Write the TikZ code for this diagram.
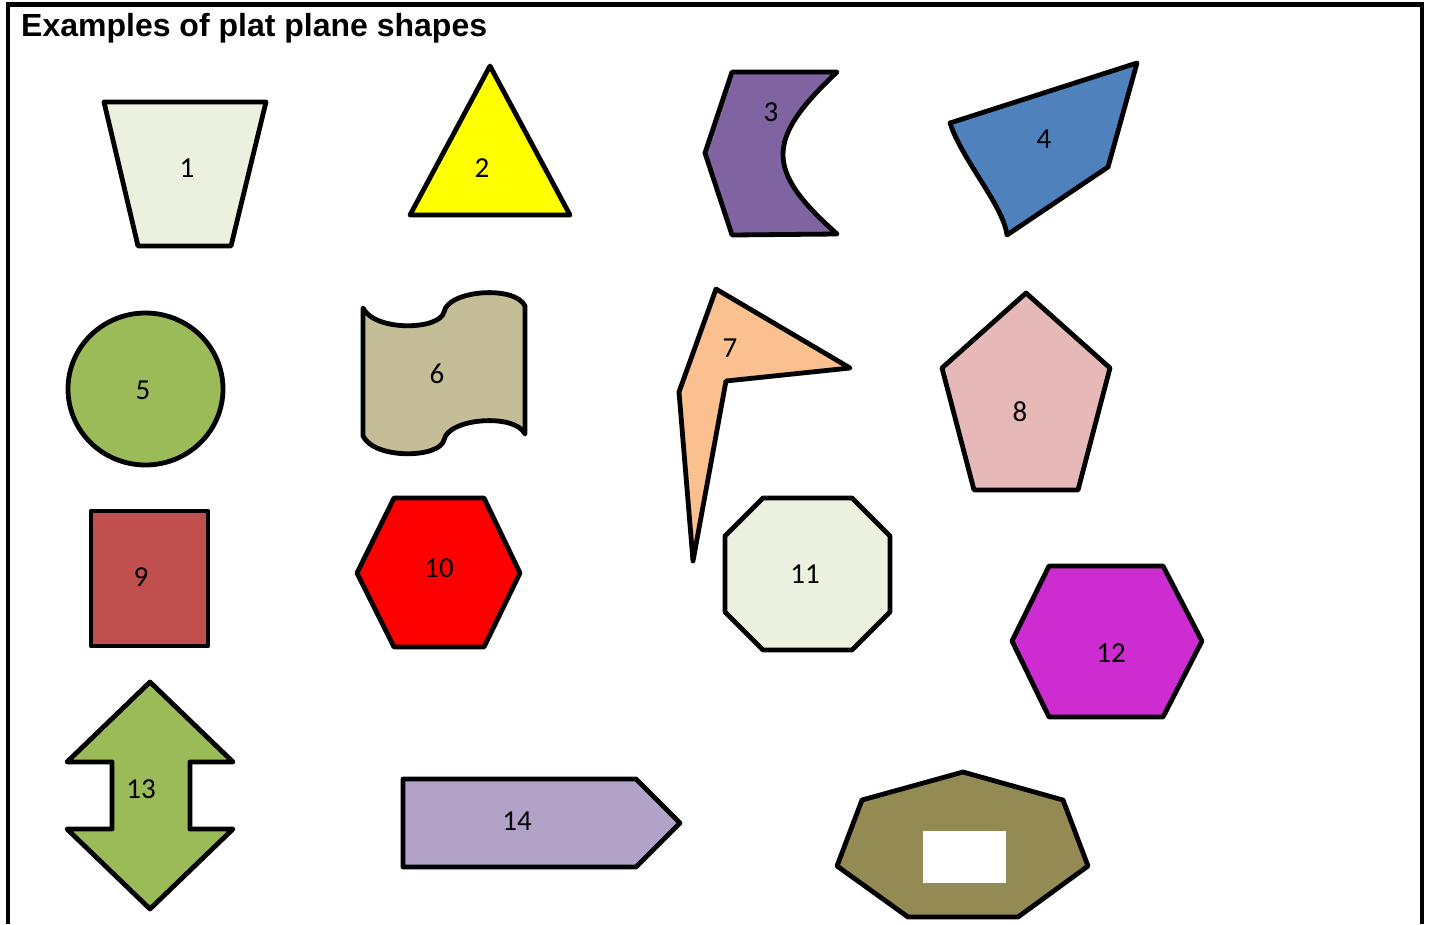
\documentclass[tikz,border=0pt]{standalone}
\usepackage{fontspec}
\setmainfont{Liberation Sans}
\newfontfamily\numfont{Carlito}
\definecolor{cPale}{HTML}{EBF1DE}
\definecolor{cYellow}{HTML}{FFFF00}
\definecolor{cPurple}{HTML}{8064A2}
\definecolor{cBlue}{HTML}{4F81BD}
\definecolor{cGreen}{HTML}{9BBB59}
\definecolor{cTan}{HTML}{C4BD97}
\definecolor{cPeach}{HTML}{FAC090}
\definecolor{cPink}{HTML}{E6B9B8}
\definecolor{cBrick}{HTML}{C0504D}
\definecolor{cRed}{HTML}{FF0000}
\definecolor{cMagenta}{RGB}{204,44,208}
\definecolor{cLavender}{HTML}{B3A2C7}
\definecolor{cOlive}{HTML}{948A54}
\tikzset{
  shapeline/.style={draw=black, line width=4.8pt, line join=round, line cap=round},
  numlabel/.style={inner sep=0pt, font=\numfont\fontsize{29}{29}\selectfont},
  titletext/.style={inner sep=0pt, anchor=base west, font=\bfseries\fontsize{32}{32}\selectfont}
}
\begin{document}
\begin{tikzpicture}[x=1pt,y=-1pt]
\path[use as bounding box] (0,0) rectangle (1431,924);
\fill[white] (0,0) rectangle (1431,924);
% frame
\draw[line width=4.5pt] (8,924) -- (8,4.5) -- (1422,4.5) -- (1422,924);
\node[titletext] (title) at (21,36) {Examples of plat plane shapes};
% 1 trapezoid
\draw[shapeline, fill=cPale] (104,102) -- (266,102) -- (231,246) -- (138,246) -- cycle;
\node[numlabel] (n1) at (187,168) {1};
% 2 triangle
\draw[shapeline, fill=cYellow] (490,66) -- (570,215) -- (410,215) -- cycle;
\node[numlabel] (n2) at (482,168) {2};
% 3
\draw[shapeline, fill=cPurple] (732,72) -- (837,72) .. controls (765,140) and (765,170) .. (837,234) -- (732,235) -- (705,153) -- cycle;
\node[numlabel] (n3) at (771,112) {3};
% 4
\draw[shapeline, fill=cBlue] (950,123) -- (1137,63) -- (1108,167) -- (1007,235) .. controls (1003,205) and (962,160) .. cycle;
\node[numlabel] (n4) at (1044,139) {4};
% 5 circle
\draw[shapeline, fill=cGreen] (145.5,389) ellipse [x radius=77.5, y radius=76];
\node[numlabel] (n5) at (143,390) {5};
% 6 wave
\draw[shapeline, fill=cTan] (363,308) .. controls (375,332) and (440,330) .. (444,312) .. controls (448,290) and (515,285) .. (525,306)
  -- (525,434) .. controls (515,413) and (448,418) .. (444,440) .. controls (440,458) and (375,460) .. (363,436) -- cycle;
\node[numlabel] (n6) at (437,374) {6};
% 7
\draw[shapeline, fill=cPeach] (716,289) -- (850,368) -- (726,381) -- (693,561) -- (679,392) -- cycle;
\node[numlabel] (n7) at (730,348) {7};
% 8 pentagon
\draw[shapeline, fill=cPink] (1026,293) -- (1110,368) -- (1078,490) -- (974,490) -- (942,368) -- cycle;
\node[numlabel] (n8) at (1020,412) {8};
% 9 rectangle
\draw[shapeline, fill=cBrick] (91,511) rectangle (208,646);
\node[numlabel] (n9) at (141,577) {9};
% 10 hexagon
\draw[shapeline, fill=cRed] (357,573) -- (394,498) -- (484,498) -- (520,573) -- (484,647) -- (394,647) -- cycle;
\node[numlabel] (n10) at (439,568) {10};
% 11 octagon
\draw[shapeline, fill=cPale] (763,498) -- (852,498) -- (890,536) -- (890,612) -- (852,650) -- (763,650) -- (725,612) -- (725,536) -- cycle;
\node[numlabel] (n11) at (805,574) {11};
% 12 hexagon
\draw[shapeline, fill=cMagenta] (1012,641) -- (1049,566) -- (1163,566) -- (1202,641) -- (1163,717) -- (1049,717) -- cycle;
\node[numlabel] (n12) at (1111,653) {12};
% 13 up-down arrow
\draw[shapeline, fill=cGreen] (150,682) -- (233,762) -- (190,762) -- (190,829) -- (233,829) -- (150,909) -- (67,829) -- (112,829) -- (112,762) -- (67,762) -- cycle;
\node[numlabel] (n13) at (141,789) {13};
% 14 pentagon arrow
\draw[shapeline, fill=cLavender] (403,779) -- (636,779) -- (680,823) -- (636,867) -- (403,867) -- cycle;
\node[numlabel] (n14) at (517,821) {14};
% 15 heptagon with hole
\draw[shapeline, fill=cOlive] (963,772) -- (1063,800) -- (1088,866) -- (1018,917) -- (908,917) -- (837,866) -- (862,800) -- cycle;
\fill[white] (923,831) rectangle (1006,883);
\end{tikzpicture}
\end{document}
